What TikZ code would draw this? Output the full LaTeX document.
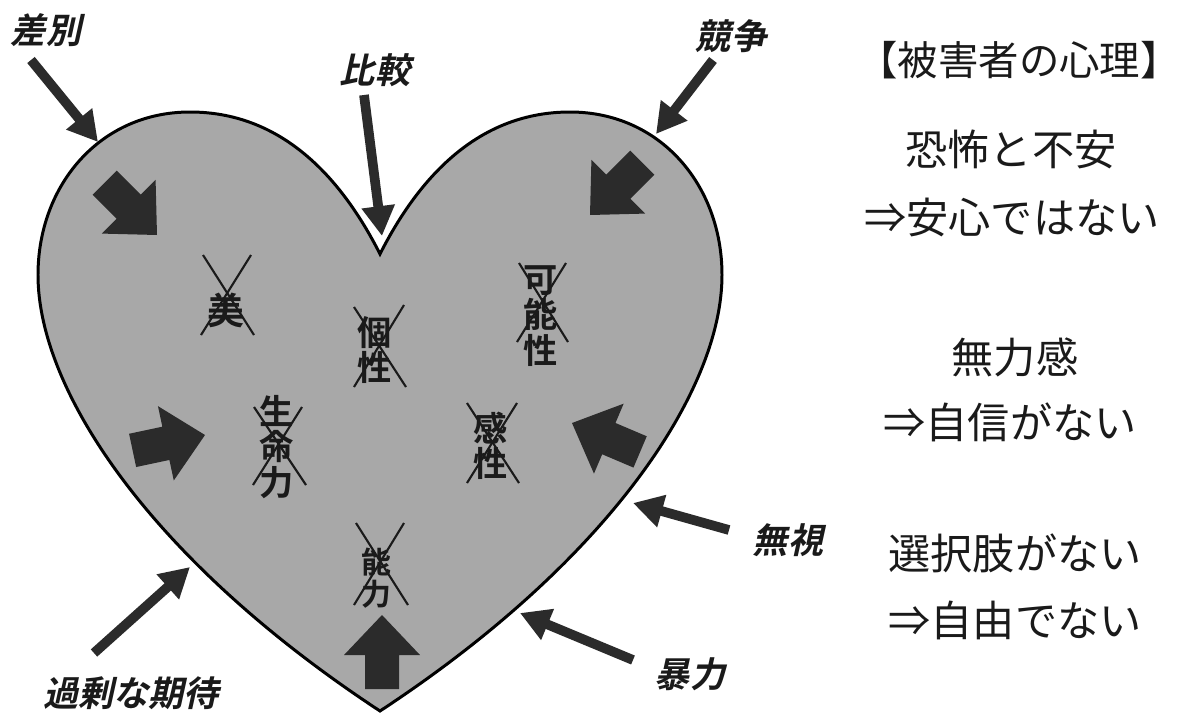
\documentclass[tikz,border=0pt]{standalone}
\usepackage{fontspec}
\setmainfont{Noto Sans CJK JP}
\newfontfamily\cjk{Noto Sans CJK JP}
\newfontfamily\cjkb{Noto Sans CJK JP}[UprightFont={* Bold}]
\newfontfamily\cjkbi{Noto Sans CJK JP}[UprightFont={* Bold}, FakeSlant=0.22]
\usetikzlibrary{arrows.meta}
\definecolor{ink}{HTML}{1A1A1A}
\definecolor{arrowdark}{HTML}{2B2B2B}
\definecolor{heartgray}{HTML}{A8A8A8}
\tikzset{
  blockarrow/.pic={\fill[arrowdark] (0,0) -- (-40,38) -- (-40,17) -- (-74,17) -- (-74,-17) -- (-40,-17) -- (-40,-38) -- cycle;},
  thinarrow/.style={draw=arrowdark, line width=5.5pt, -{Triangle[length=17pt,width=18pt]}},
  lbl/.style={font=\cjkbi\fontsize{20}{22}\selectfont, text=ink, inner sep=0pt},
  psych/.style={font=\cjk\fontsize{24}{26}\selectfont, text=ink, inner sep=0pt},
  innerword/.style={font=\cjkb\fontsize{19.5}{20}\selectfont, text=ink, inner sep=0pt, align=center},
  xline/.style={draw=ink, line width=1.2pt},
}
\begin{document}
\begin{tikzpicture}[x=0.02cm,y=-0.02cm]
\useasboundingbox[fill=white] (0,0) rectangle (1180,714);
% heart
\draw[fill=heartgray, line width=1.7pt, line join=miter]
  (380,254) .. controls (420,175) and (480,112) .. (570,112)
  .. controls (660,112) and (722,185) .. (722,275)
  .. controls (722,390) and (610,560) .. (380,711)
  .. controls (150,560) and (38,390) .. (38,275)
  .. controls (38,185) and (100,112) .. (190,112)
  .. controls (280,112) and (340,175) .. (380,254) -- cycle;
% block arrows inside
\pic[rotate=-45] at (157,235) {blockarrow};
\pic[rotate=-135] at (590,215) {blockarrow};
\pic[rotate=12] at (205,435) {blockarrow};
\pic[rotate=157] at (572,423) {blockarrow};
\pic[rotate=90] at (382,615) {blockarrow};
% crossed-out words
\node[innerword, font=\cjkb\fontsize{21}{22}\selectfont] (bi) at (226,310) {美};
\node[innerword] (kosei) at (375,350) {個\\性};
\node[innerword] (kanou) at (541,316) {可\\能\\性};
\node[innerword] (seimei) at (277,447) {生\\命\\力};
\node[innerword] (kansei) at (491,446) {感\\性};
\node[innerword, font=\cjkb\fontsize{17}{18}\selectfont] (nouryoku) at (376,578) {能\\力};
\draw[xline] (203,255) -- (254,335); \draw[xline] (251,255) -- (201,335);
\draw[xline] (354,307) -- (406,387); \draw[xline] (404,305) -- (354,387);
\draw[xline] (519,263) -- (568,342); \draw[xline] (566,263) -- (517,342);
\draw[xline] (254,407) -- (306,485); \draw[xline] (302,407) -- (253,485);
\draw[xline] (467,403) -- (519,483); \draw[xline] (517,403) -- (467,483);
\draw[xline] (356,523) -- (408,605); \draw[xline] (404,523) -- (354,605);
% outer labels
\node[lbl] (sabetsu) at (46,30) {差別};
\node[lbl] (hikaku) at (375,70) {比較};
\node[lbl] (kyousou) at (731,36) {競争};
\node[lbl] (mushi) at (788,540) {無視};
\node[lbl] (bouryoku) at (690,674) {暴力};
\node[lbl] (kajou) at (131,693) {過剰な期待};
% thin arrows
\coordinate (sabetsuT) at (31,60);   \coordinate (sabetsuH) at (98,142);
\coordinate (hikakuT) at (364,95);   \coordinate (hikakuH) at (382,236);
\coordinate (kyousouT) at (713,60);  \coordinate (kyousouH) at (656,134);
\coordinate (mushiT) at (729,530);   \coordinate (mushiH) at (633,503);
\coordinate (bouryokuT) at (633,660);\coordinate (bouryokuH) at (520,613);
\coordinate (kajouT) at (94,653);    \coordinate (kajouH) at (190,567);
\draw[thinarrow] (sabetsuT) -- (sabetsuH);
\draw[thinarrow] (hikakuT) -- (hikakuH);
\draw[thinarrow] (kyousouT) -- (kyousouH);
\draw[thinarrow] (mushiT) -- (mushiH);
\draw[thinarrow] (bouryokuT) -- (bouryokuH);
\draw[thinarrow] (kajouT) -- (kajouH);
% right-hand text
\node[psych, font=\cjk\fontsize{23}{25}\selectfont] (head) at (1019,60) {【被害者の心理】};
\node[psych] (fear) at (1011,149) {恐怖と不安};
\node[psych] (anshin) at (1012,217) {⇒安心ではない};
\node[psych] (muryoku) at (1015,357) {無力感};
\node[psych] (jishin) at (1010,422) {⇒自信がない};
\node[psych] (sentaku) at (1015,553) {選択肢がない};
\node[psych] (jiyuu) at (1015,620) {⇒自由でない};
\end{tikzpicture}
\end{document}
